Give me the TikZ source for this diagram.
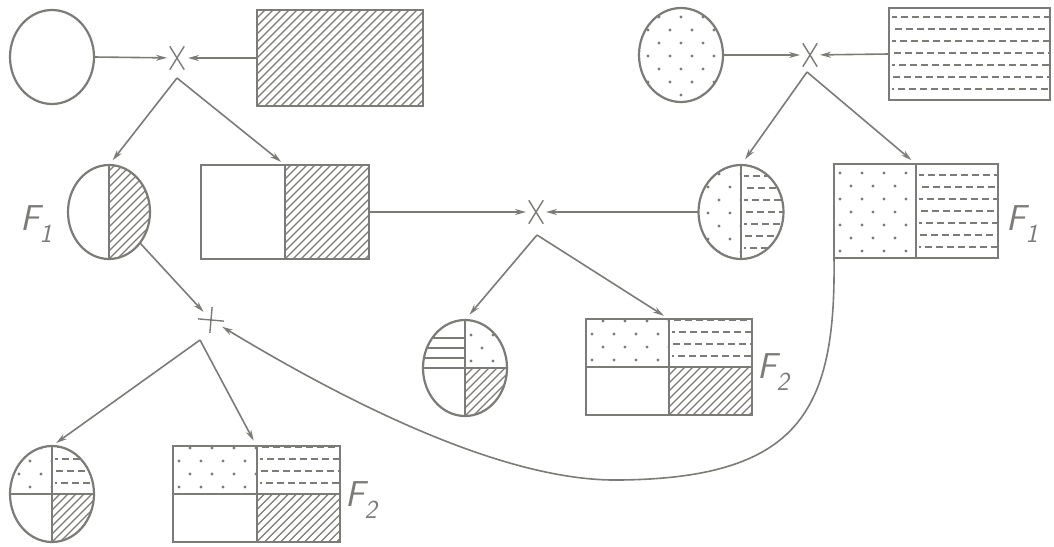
\documentclass[tikz,border=0pt]{standalone}
\usetikzlibrary{shapes.geometric,shapes.misc,arrows.meta}
\definecolor{ink}{RGB}{125,123,119}

% diagonal hatching inside the rectangle #1 (lower left) -- #2 (upper right)
\newcommand\hatchin[2]{\begin{scope}
  \clip #1 rectangle #2; \path #1 coordinate (pat0);
  \foreach \d in {-120,-112,...,184}{\draw[hatchline] ([xshift=\d pt]pat0) -- ++(170pt,170pt);}
\end{scope}}
% staggered dots
\newcommand\dotsin[2]{\begin{scope}
  \clip #1 rectangle #2; \path #1 coordinate (pat0);
  \foreach \r in {0,...,7}{\foreach \c in {0,...,8}{%
    \pgfmathsetmacro\dx{6+\c*22+mod(\r,2)*11}\pgfmathsetmacro\dy{7+\r*13}%
    \fill[ink] ([xshift=\dx pt,yshift=\dy pt]pat0) circle[radius=1.6pt];}}
\end{scope}}
% horizontal dashed lines
\newcommand\dashin[2]{\begin{scope}
  \clip #1 rectangle #2; \path #1 coordinate (pat0);
  \foreach \k in {1,...,9}{\pgfmathsetmacro\ph{mod(\k*5,11)}\pgfmathsetmacro\dy{\k*12-1}%
    \draw[dashline,dash phase=\ph pt] ([xshift=3pt,yshift=\dy pt]pat0) -- ++(200pt,0pt);}
\end{scope}}
% horizontal solid lines
\newcommand\rulein[2]{\begin{scope}
  \clip #1 rectangle #2; \path #1 coordinate (pat0);
  \foreach \k in {1,2,3}{\draw[ink,line width=1.3pt] ([yshift=\k*10pt]pat0) -- ++(120pt,0pt);}
\end{scope}}
\newcommand\flab[1]{\fontsize{36}{36}\selectfont F\raisebox{-12pt}{\fontsize{26}{26}\selectfont #1}}

\begin{document}
\begin{tikzpicture}[x=1pt,y=-1pt,
  oval/.style args={#1x#2}{ellipse,draw=ink,line width=2.2pt,inner sep=0pt,outer sep=0pt,minimum width=#1pt,minimum height=#2pt},
  box/.style args={#1x#2}{rectangle,draw=ink,line width=2.5pt,inner sep=0pt,outer sep=0pt,minimum width=#1pt,minimum height=#2pt},
  crossmark/.style={cross out,draw=ink,line width=1.4pt,inner sep=0pt,minimum width=13pt,minimum height=22pt},
  arr/.style={draw=ink,line width=1.6pt,-{Stealth[length=11pt,width=6pt]}},
  hatchline/.style={draw=ink,line width=1.1pt},
  dashline/.style={draw=ink,line width=1.2pt,dash pattern=on 7pt off 4pt},
  divline/.style={draw=ink,line width=2pt},
  flabel/.style={text=ink,font=\sffamily\itshape,inner sep=0pt}]
\fill[white] (0,0) rectangle (1054,546);
\useasboundingbox (0,0) rectangle (1054,546);

% parents, first cross
\node[oval=84x94] (p1) at (52,57) {};
\node[box=166x96] (r1) at (340,58) {};
\node[crossmark] (x1) at (177,58) {};
\node[oval=84x94] (p2) at (681,55) {};
\node[box=161x92] (r2) at (969.5,54) {};
\node[crossmark] (x2) at (810,55) {};
% F1 generation
\node[oval=82x94] (c3) at (109,212) {};
\node[box=168x94] (r3) at (285,212) {};
\node[crossmark] (x3) at (536,212) {};
\node[oval=85x94] (c4) at (741,212) {};
\node[box=164x94] (r4) at (916,211) {};
\node[crossmark,minimum width=17pt,minimum height=17pt,rotate=40] (x4) at (211,320) {};
% F2 generation
\node[oval=84x96] (c5) at (465,368) {};
\node[box=166x96] (r5) at (669,367) {};
\node[oval=84x96] (c6) at (52,494) {};
\node[box=167x96] (r6) at (256.5,494) {};

% fills
\hatchin{(r1.south west)}{(r1.north east)}
\begin{scope}\clip (p2.center) ellipse [x radius=42pt,y radius=47pt];
  \dotsin{([xshift=-50pt]p2.south)}{([xshift=50pt]p2.north)}
\end{scope}
\dashin{(r2.south west)}{(r2.north east)}

\begin{scope}\clip (c3.center) ellipse [x radius=41pt,y radius=47pt];
  \hatchin{(c3.south)}{([xshift=50pt]c3.north)}
\end{scope}
\hatchin{(r3.south)}{(r3.north east)}
\begin{scope}\clip (c4.center) ellipse [x radius=42.5pt,y radius=47pt];
  \dotsin{([xshift=-50pt]c4.south)}{(c4.north)}
  \dashin{(c4.south)}{([xshift=50pt]c4.north)}
\end{scope}
\dotsin{(r4.south west)}{(r4.north)}
\dashin{(r4.south)}{(r4.north east)}

\begin{scope}\clip (c5.center) ellipse [x radius=42pt,y radius=48pt];
  \rulein{([xshift=-50pt]c5.center)}{(c5.north)}
  \dotsin{(c5.center)}{([xshift=50pt]c5.north)}
  \hatchin{(c5.south)}{([xshift=50pt]c5.center)}
\end{scope}
\dotsin{(r5.west)}{(r5.north)}
\dashin{(r5.center)}{(r5.north east)}
\hatchin{(r5.south)}{(r5.east)}

\begin{scope}\clip (c6.center) ellipse [x radius=42pt,y radius=48pt];
  \dotsin{([xshift=-50pt]c6.center)}{(c6.north)}
  \dashin{(c6.center)}{([xshift=50pt]c6.north)}
  \hatchin{(c6.south)}{([xshift=50pt]c6.center)}
\end{scope}
\dotsin{(r6.west)}{(r6.north)}
\dashin{(r6.center)}{(r6.north east)}
\hatchin{(r6.south)}{(r6.east)}

% dividing lines
\draw[divline] (c3.north) -- (c3.south);
\draw[divline] (r3.north) -- (r3.south);
\draw[divline] (c4.north) -- (c4.south);
\draw[divline] (r4.north) -- (r4.south);
\foreach \n in {c5,r5,c6,r6}{
  \draw[divline] (\n.north) -- (\n.south);
  \draw[divline] (\n.west) -- (\n.east);
}

% labels
\node[flabel] (f1a) at (36,224) {\flab{1}};
\node[flabel] (f1b) at (1022,224) {\flab{1}};
\node[flabel] (f2a) at (773,372) {\flab{2}};
\node[flabel] (f2b) at (361,500) {\flab{2}};

% connectors
\coordinate (x1v) at (177,78);
\coordinate (x2v) at (807,72);
\coordinate (x3v) at (537,235);
\coordinate (x4v) at (200,340);

\draw[arr,shorten >=10pt] (p1.east) -- (x1.center);
\draw[arr,shorten >=11pt] (r1.west) -- (x1.center);
\draw[arr,shorten >=6pt] (x1v) -- (c3.north);
\draw[arr,shorten >=5pt] (x1v) -- (r3.north);

\draw[arr,shorten >=10pt] (p2.east) -- (x2.center);
\draw[arr,shorten >=10pt] (r2.west) -- (x2.center);
\draw[arr,shorten >=7pt] (x2v) -- (c4.north);
\draw[arr,shorten >=6pt] (x2v) -- (r4.north);

\draw[arr,shorten >=10pt] (r3.east) -- (x3.center);
\draw[arr,shorten >=10pt] (c4.west) -- (x3.center);
\draw[arr,shorten >=7pt] (x3v) -- (c5.north);
\draw[arr,shorten >=6pt] (x3v) -- (r5.north);

\draw[arr,shorten >=11pt] (c3.-45) -- (x4.center);
\draw[arr,shorten >=13pt] (r4.south west) .. controls (836,410) and (800,478) .. (620,480)
  .. controls (510,482) and (360,410) .. (x4.center);
\draw[arr,shorten >=5pt] (x4v) -- (c6.north);
\draw[arr,shorten >=6pt] (x4v) -- (r6.north);
\end{tikzpicture}
\end{document}
